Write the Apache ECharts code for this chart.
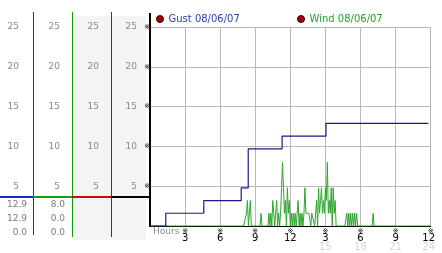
<!DOCTYPE html>
<html><head><meta charset="utf-8">
<script src="https://cdn.jsdelivr.net/npm/echarts@6/dist/echarts.min.js"></script>
<style>html,body{margin:0;padding:0;background:#fff}#c{width:442px;height:253px}</style>
</head><body><div id="c"></div>
<script>
// ---------- data ----------
const seriesNames = ['Gust 08/06/07', 'Wind 08/06/07'];
const xTickHours = [0, 3, 6, 9, 12, 15, 18, 21, 24];
const xTickLabels = ['', '3', '6', '9', '12', '3', '6', '9', '12'];
const xTick24Labels = ['', '', '', '', '', '15', '18', '21', '24'];
const yTickLabels = ['', '5', '10', '15', '20', '25'];
// gust (running maximum) – step changes: hour at which the new value starts
const gustHours  = [0, 1.35, 4.6, 7.8, 8.4, 11.3, 15.05, 23.8];
const gustValues = [0, 1.6, 3.2, 4.8, 9.7, 11.3, 12.9, 12.9];
// wind – one reading every 5 minutes, 00:00 .. 24:00
const windStepMinutes = 5;
const windValues = [
  0,0,0,0,0,0,0,0,0,0,0,0,            // 0h
  0,0,0,0,0,0,0,0,0,0,0,0,            // 1h
  0,0,0,0,0,0,0,0,0,0,0,0,            // 2h
  0,0,0,0,0,0,0,0,0,0,0,0,            // 3h
  0,0,0,0,0,0,0,0,0,0,0,0,            // 4h
  0,0,0,0,0,0,0,0,0,0,0,0,            // 5h
  0,0,0,0,0,0,0,0,0,0,0,0,            // 6h
  0,0,0,0,0,0,0,0,0,0,0,0,            // 7h
  0,0,0,1.6,3.2,0,1.6,3.2,0,0,0,0,    // 8h
  0,0,0,0,0,0,1.6,0,0,0,0,0,          // 9h
  0,0,1.6,0,1.6,0,3.2,1.6,0,1.6,3.2,0, // 10h
  1.6,0,1.6,4.8,8.0,4.8,1.6,3.2,0,4.8,1.6,3.2, // 11h
  0,1.6,0,1.6,0,1.6,0,1.6,3.2,0,1.6,0, // 12h
  1.6,0,1.6,4.8,1.6,1.6,1.6,1.6,1.6,0,1.6,1.6, // 13h
  1.6,0,1.6,3.2,0,4.8,1.6,3.2,4.8,1.6,3.2,1.6, // 14h
  4.8,3.2,8.0,1.6,3.2,1.6,4.8,0,4.8,1.6,3.2,0, // 15h
  0,0,0,0,0,0,0,0,0,0,1.6,0,          // 16h
  1.6,0,1.6,0,1.6,0,1.6,0,1.6,0,0,0,  // 17h
  0,0,0,0,0,0,0,0,0,0,0,0,            // 18h
  0,1.6,0,0,0,0,0,0,0,0,0,0,          // 19h
  0,0,0,0,0,0,0,0,0,0,0,0,            // 20h
  0,0,0,0,0,0,0,0,0,0,0,0,            // 21h
  0,0,0,0,0,0,0,0,0,0,0,0,            // 22h
  0,0,0,0,0,0,0,0,0,0,0,0,            // 23h
  0                                   // 24h
];
// statistics shown below the side columns
const gustStats = ['12.9', '12.9', '0.0'];
const windStats = ['8.0', '0.0', '0.0'];
const axisTitle = 'Hours';

// ---------- chart ----------
const FONT = 'DejaVu Sans';
const GLYPH = '\u203B';
const chart = echarts.init(document.getElementById('c'), null, {renderer: 'canvas'});

const sideAxis = (offset) => ({
  type: 'value', gridIndex: 0, position: 'left', offset: offset,
  min: 0, max: 25, interval: 5,
  axisLine: {show: false}, axisTick: {show: false}, splitLine: {show: false},
  axisLabel: {margin: 0, color: '#8a8a8a', fontFamily: FONT, fontSize: 9,
    formatter: v => yTickLabels[Math.round(v / 5)] || ''}
});

const graphics = [
  {type: 'rect', z: -100, shape: {x: 73, y: 16, width: 73, height: 224}, style: {fill: '#f4f4f4'}},
  {type: 'line', z: 100, shape: {x1: 33.5, y1: 12, x2: 33.5, y2: 235}, style: {stroke: '#0a2fd0', lineWidth: 1}},
  {type: 'line', z: 100, shape: {x1: 72.5, y1: 12, x2: 72.5, y2: 237}, style: {stroke: '#10a010', lineWidth: 1}},
  {type: 'line', z: 100, shape: {x1: 111.5, y1: 12, x2: 111.5, y2: 237}, style: {stroke: '#c80000', lineWidth: 1}},
  {type: 'line', z: 100, shape: {x1: 150, y1: 13, x2: 150, y2: 28}, style: {stroke: '#000', lineWidth: 2}},
  {type: 'line', z: 100, shape: {x1: 0, y1: 197, x2: 33, y2: 197}, style: {stroke: '#0a2fd0', lineWidth: 2}},
  {type: 'line', z: 100, shape: {x1: 33, y1: 197, x2: 72, y2: 197}, style: {stroke: '#10a010', lineWidth: 2}},
  {type: 'line', z: 100, shape: {x1: 72, y1: 197, x2: 111, y2: 197}, style: {stroke: '#d80000', lineWidth: 2}},
  {type: 'line', z: 100, shape: {x1: 111, y1: 197, x2: 150, y2: 197}, style: {stroke: '#000', lineWidth: 2}},
  {type: 'text', z: 100, x: 153, y: 232, style: {text: axisTitle, fill: '#8a8a8a', font: '9px "DejaVu Sans"', verticalAlign: 'middle'}}
];
gustStats.forEach((t, i) => graphics.push({type: 'text', z: 100, x: 27, y: 204.5 + i * 14,
  style: {text: t, fill: '#7a7a7a', font: '9px "DejaVu Sans"', align: 'right', verticalAlign: 'middle'}}));
windStats.forEach((t, i) => graphics.push({type: 'text', z: 100, x: 65, y: 204.5 + i * 14,
  style: {text: t, fill: '#7a7a7a', font: '9px "DejaVu Sans"', align: 'right', verticalAlign: 'middle'}}));

const legendItem = (name, textColor) => ({
  name: name, icon: 'circle',
  itemStyle: {color: '#a00000', borderColor: '#3a0000', borderWidth: 1},
  textStyle: {color: textColor}
});

const option = {
  animation: false,
  backgroundColor: '#fff',
  textStyle: {fontFamily: FONT},
  legend: [
    {left: 156, top: 14, padding: 0, itemWidth: 7, itemHeight: 7, selectedMode: false,
      textStyle: {fontFamily: FONT, fontSize: 10},
      data: [legendItem(seriesNames[0], '#2343a6')]},
    {left: 297, top: 14, padding: 0, itemWidth: 7, itemHeight: 7, selectedMode: false,
      textStyle: {fontFamily: FONT, fontSize: 10},
      data: [legendItem(seriesNames[1], '#22a022')]}
  ],
  grid: {left: 150, top: 27, width: 288, height: 199, containLabel: false},
  xAxis: {
    type: 'value', min: 0, max: 24, interval: 3,
    axisLine: {show: true, lineStyle: {color: '#000', width: 1}},
    axisTick: {show: false},
    splitLine: {show: true, lineStyle: {color: '#b9b9b9', width: 1}},
    axisLabel: {
      margin: 2, interval: 0, showMaxLabel: true, showMinLabel: true, hideOverlap: false,
      formatter: v => {
        const i = xTickHours.indexOf(v);
        if (i <= 0) return '';
        const last = i === xTickHours.length - 1;
        const n = last ? 'n2' : 'n', f = last ? 'f2' : 'f';
        let s = '{g|' + GLYPH + '}\n{' + n + '|' + xTickLabels[i] + '}';
        if (xTick24Labels[i]) s += '\n{' + f + '|' + xTick24Labels[i] + '}';
        return s;
      },
      rich: {
        g: {fontFamily: FONT, fontSize: 7, lineHeight: 6, color: '#000'},
        n: {fontFamily: FONT, fontSize: 10, lineHeight: 8, color: '#000'},
        f: {fontFamily: FONT, fontSize: 10, lineHeight: 10, color: '#d6d6d6'},
        n2: {fontFamily: FONT, fontSize: 10, lineHeight: 8, color: '#000', padding: [0, 4, 0, 0]},
        f2: {fontFamily: FONT, fontSize: 10, lineHeight: 10, color: '#d6d6d6', padding: [0, 4, 0, 0]}
      }
    }
  },
  yAxis: [
    {
      type: 'value', min: 0, max: 25, interval: 5, position: 'left',
      axisLine: {show: true, lineStyle: {color: '#000', width: 2}},
      axisTick: {show: false},
      splitLine: {show: true, lineStyle: {color: '#b9b9b9', width: 1}},
      axisLabel: {margin: 0, color: '#000', fontFamily: FONT, fontSize: 7,
        formatter: v => (v === 0 ? '' : GLYPH)}
    },
    sideAxis(13), sideAxis(51), sideAxis(90), sideAxis(131)
  ],
  graphic: graphics,
  series: [
    {
      name: seriesNames[1], type: 'line', yAxisIndex: 0, symbol: 'none', z: 3,
      data: windValues.map((v, i) => [i * windStepMinutes / 60, v]),
      lineStyle: {color: '#2ea52e', width: 1}, itemStyle: {color: '#2ea52e'}
    },
    {
      name: seriesNames[0], type: 'line', yAxisIndex: 0, symbol: 'none', step: 'end', z: 4,
      data: gustHours.map((h, i) => [h, gustValues[i]]),
      lineStyle: {color: '#1a1a86', width: 1.2}, itemStyle: {color: '#1a1a86'}
    }
  ]
};
chart.setOption(option);
</script>
</body></html>
